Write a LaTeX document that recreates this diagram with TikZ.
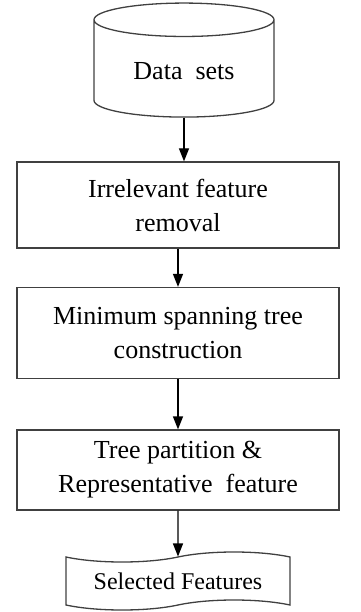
\documentclass[tikz,border=0pt]{standalone}
\usepackage{fontspec}
\setmainfont{Liberation Serif}
\usetikzlibrary{shapes.geometric,shapes.symbols,arrows.meta}

\begin{document}
\begin{tikzpicture}[x=1pt, y=-1pt,
    stepbox/.style={rectangle, draw=black!75, line width=1.3pt, minimum width=322pt, align=center, font=\fontsize{26}{34}\selectfont},
    flow/.style={draw=black, line width=1.3pt, -{Triangle[width=10pt,length=13pt]}}]
    \useasboundingbox (0,0) rectangle (360,612);
    \node[cylinder, shape border rotate=90, draw=black!75, line width=1.3pt, aspect=0.31, minimum width=180pt, minimum height=114pt, font=\fontsize{26}{34}\selectfont] (data) at (184, 71) {Data\ \ sets};
    \node[stepbox, minimum height=86pt] (irr) at (178, 205) {Irrelevant feature\\removal};
    \node[stepbox, minimum height=91pt] (mst) at (178, 333) {Minimum spanning tree\\construction};
    \node[stepbox, minimum height=80pt] (tree) at (178, 470) {Tree partition \&\\Representative\ \ feature};
    \node[tape, draw=black!75, line width=1.3pt, tape bend height=10pt, minimum width=224pt, minimum height=58pt, font=\fontsize{24}{30}\selectfont] (sel) at (178, 581) {Selected Features};

    % 矢印を引く
    \draw[flow] (data) -- (data |- irr.north);
    \draw[flow] (irr) -- (mst);
    \draw[flow] (mst) -- (tree);
    \draw[flow] (tree) -- (sel);
\end{tikzpicture}
\end{document}
